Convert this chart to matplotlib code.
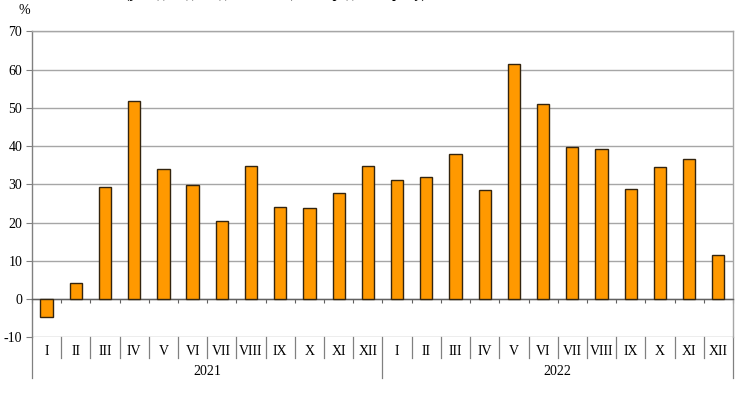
import numpy as np
import matplotlib
matplotlib.use("Agg")
from matplotlib import pyplot as plt
from matplotlib import transforms

# Dani po misiatsiakh, %
years = ["2021", "2022"]
months = ["I", "II", "III", "IV", "V", "VI", "VII", "VIII", "IX", "X", "XI", "XII"]
vals_2021 = [-4.6, 4.3, 29.2, 51.7, 34.0, 29.9, 20.4, 34.7, 24.0, 23.8, 27.6, 34.7]
vals_2022 = [31.1, 31.9, 37.9, 28.5, 61.4, 50.9, 39.8, 39.2, 28.8, 34.5, 36.6, 11.4]
y_ticks = [-10, 0, 10, 20, 30, 40, 50, 60, 70]

values = vals_2021 + vals_2022
labels = months * len(years)
x = np.arange(len(values))

plt.rcParams["font.family"] = ["Liberation Serif", "DejaVu Serif"]

fig = plt.figure(figsize=(7.4, 3.94), dpi=100)
ax = fig.add_axes([0.0432, 0.1439, 0.9473, 0.7767])

ax.bar(x, values, width=0.42, color="#ff9900", edgecolor="#33240f", linewidth=1.0, zorder=3)

ax.set_xlim(-0.5, len(values) - 0.5)
ax.set_ylim(-10, 70)
ax.set_yticks(y_ticks)
ax.set_yticklabels([str(t) for t in y_ticks], fontsize=10)
ax.yaxis.grid(True, color="#a6a6a6", linewidth=1.0, zorder=0)
ax.tick_params(axis="y", length=4, width=0.8, color="#808080", pad=3)

for s in ["top", "right"]:
    ax.spines[s].set_color("#a6a6a6")
    ax.spines[s].set_linewidth(1.0)
ax.spines["left"].set_color("#808080")
ax.spines["left"].set_linewidth(1.0)
ax.spines["bottom"].set_position(("data", 0))
ax.spines["bottom"].set_color("#606060")
ax.spines["bottom"].set_linewidth(1.0)

# tick marks between months on the zero line
bounds = np.arange(-0.5, len(values), 1.0)
ax.set_xticks(bounds)
ax.set_xticklabels([])
ax.tick_params(axis="x", length=3, width=0.8, color="#606060", direction="out")

# category labels below the plot area
trans = transforms.blended_transform_factory(ax.transData, ax.transAxes)
for i, lab in enumerate(labels):
    ax.text(i, -0.045, lab, transform=trans, ha="center", va="center", fontsize=10)
for b in bounds:
    is_year = (b + 0.5) % 12 == 0
    ax.plot([b, b], [0, -0.133 if is_year else -0.068], transform=trans,
            color="#808080", linewidth=0.9, clip_on=False)
for k, yr in enumerate(years):
    ax.text(k * 12 + 5.5, -0.113, yr, transform=trans, ha="center", va="center", fontsize=10)

fig.text(24 / 740, 1 - 11 / 394, "%", ha="center", va="center", fontsize=10)

# zagolovok, obrizanyi zverhu yak na originali
fig.text(276 / 740, 1 + 2.2 / 394, "(у % до відповідного місяця попереднього року)",
         ha="center", va="baseline", fontsize=10, fontweight="bold")

fig.savefig("out.png", dpi=100)
